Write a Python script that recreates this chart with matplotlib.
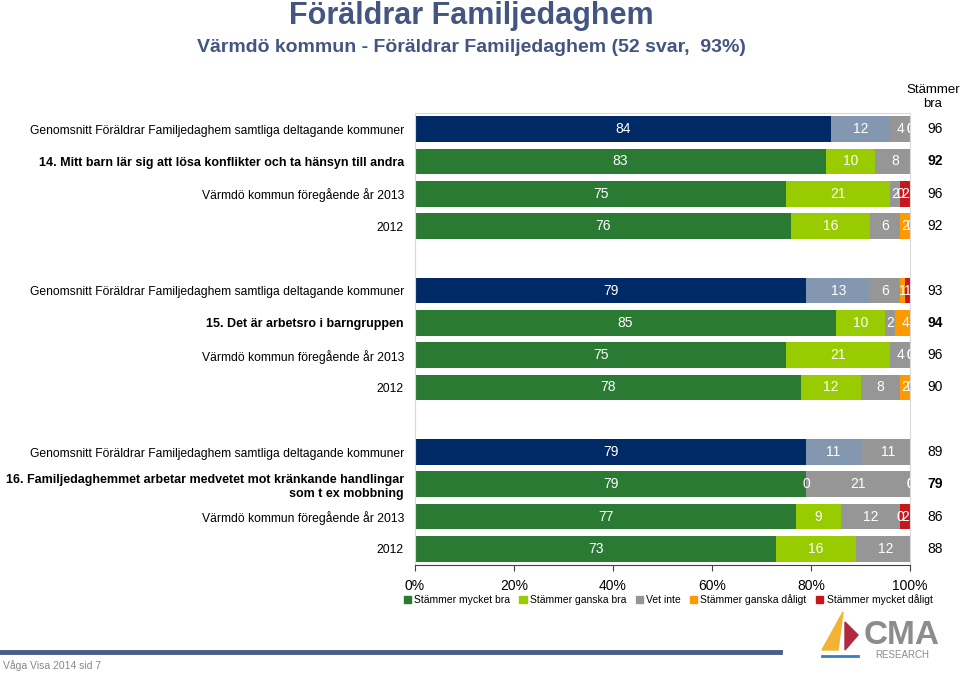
import numpy as np
import matplotlib.pyplot as plt
from matplotlib.patches import Polygon, Patch

plt.rcParams['font.family'] = ['Liberation Sans', 'DejaVu Sans']

# row labels, top to bottom
row_labels = [
    "Genomsnitt Föräldrar Familjedaghem samtliga deltagande kommuner",
    "14. Mitt barn lär sig att lösa konflikter och ta hänsyn till andra",
    "Värmdö kommun föregående år 2013",
    "2012",
    "Genomsnitt Föräldrar Familjedaghem samtliga deltagande kommuner",
    "15. Det är arbetsro i barngruppen",
    "Värmdö kommun föregående år 2013",
    "2012",
    "Genomsnitt Föräldrar Familjedaghem samtliga deltagande kommuner",
    "16. Familjedaghemmet arbetar medvetet mot kränkande handlingar\nsom t ex mobbning",
    "Värmdö kommun föregående år 2013",
    "2012",
]
row_pos = [0, 1, 2, 3, 5, 6, 7, 8, 10, 11, 12, 13]
bold_rows = [1, 5, 9]
avg_rows = [0, 4, 8]

mycket_bra = [84, 83, 75, 76, 79, 85, 75, 78, 79, 79, 77, 73]
ganska_bra = [12, 10, 21, 16, 13, 10, 21, 12, 11, 0, 9, 16]
vet_inte = [4, 8, 2, 6, 6, 2, 4, 8, 11, 21, 12, 12]
ganska_daligt = [0, 0, 0, 2, 1, 4, 0, 2, 0, 0, 0, 0]
mycket_daligt = [0, 0, 2, 0, 1, 0, 0, 0, 0, 0, 2, 0]
stammer_bra = [96, 92, 96, 92, 93, 94, 96, 90, 89, 79, 86, 88]

series_names = ["Stämmer mycket bra", "Stämmer ganska bra", "Vet inte",
                "Stämmer ganska dåligt", "Stämmer mycket dåligt"]
colors = ["#2a7a33", "#99cc00", "#969696", "#ff9900", "#c8161d"]
avg_colors = ["#002a66", "#8497b0", "#969696", "#ff9900", "#c8161d"]

fig = plt.figure(figsize=(9.6, 6.74), dpi=100)
ax = fig.add_axes([415 / 960, 1 - 565 / 674, 495 / 960, 452 / 674])

series = [mycket_bra, ganska_bra, vet_inte, ganska_daligt, mycket_daligt]
left = np.zeros(len(row_pos))
for s, vals in enumerate(series):
    vals = np.array(vals, dtype=float)
    cols = [avg_colors[s] if i in avg_rows else colors[s] for i in range(len(vals))]
    ax.barh(row_pos, vals, left=left, height=0.8, color=cols, edgecolor='none')
    for i, v in enumerate(vals):
        ax.text(left[i] + v / 2, row_pos[i], "%d" % v, ha='center', va='center',
                color='white', fontsize=10, clip_on=True)
    left += vals

ax.set_xlim(0, 100)
ax.set_ylim(13.5, -0.5)
ax.set_xticks([0, 20, 40, 60, 80, 100])
ax.set_xticklabels(["0%", "20%", "40%", "60%", "80%", "100%"], fontsize=10)
ax.tick_params(axis='x', length=4, color='#404040', pad=6)
ax.set_yticks(row_pos)
ax.set_yticklabels(row_labels, fontsize=8.7)
ax.tick_params(axis='y', length=0, pad=8)
for i, lab in enumerate(ax.get_yticklabels()):
    if i in bold_rows:
        lab.set_fontweight('bold')
        lab.set_fontsize(9)
    lab.set_multialignment('right')

for side in ['top', 'right', 'left']:
    ax.spines[side].set_color('#d9d9d9')
ax.spines['bottom'].set_color('#404040')

# right column
for i, v in enumerate(stammer_bra):
    ax.text(1.05, row_pos[i], str(v), transform=ax.get_yaxis_transform(),
            ha='center', va='center', fontsize=10,
            fontweight='bold' if i in bold_rows else 'normal')
fig.text(933 / 960, 1 - 97 / 674, "Stämmer\nbra", ha='center', va='center',
         fontsize=9.5, linespacing=1.3)

handles = [Patch(color=c, label=n) for c, n in zip(colors, series_names)]
fig.legend(handles=handles, loc='center', bbox_to_anchor=(668 / 960, 1 - 600 / 674),
           ncol=5, fontsize=7.5, frameon=False, handlelength=0.7, handleheight=0.7,
           handletextpad=0.3, columnspacing=0.9)

# titles
fig.text(471 / 960, 1 - 16 / 674, "Föräldrar Familjedaghem", ha='center',
         va='center', fontsize=22, fontweight='bold', color='#435580')
fig.text(471 / 960, 1 - 47 / 674, "Värmdö kommun - Föräldrar Familjedaghem (52 svar,  93%)",
         ha='center', va='center', fontsize=14, fontweight='bold', color='#435580')

# footer
fig.add_artist(plt.Line2D([0, 780 / 960], [1 - 652 / 674] * 2, color='#4a5e8c',
                          lw=3.5, transform=fig.transFigure))
fig.text(3 / 960, 1 - 666 / 674, "Våga Visa 2014 sid 7", ha='left', va='center',
         fontsize=7.5, color='#888888')

# logo
fig.add_artist(Polygon([(843 / 960, 1 - 612 / 674), (822 / 960, 1 - 650 / 674),
                        (838 / 960, 1 - 650 / 674)], closed=True,
                       color='#f2b233', transform=fig.transFigure))
fig.add_artist(Polygon([(845 / 960, 1 - 622 / 674), (858 / 960, 1 - 635 / 674),
                        (845 / 960, 1 - 650 / 674)], closed=True,
                       color='#b02a3e', transform=fig.transFigure))
fig.add_artist(plt.Line2D([822 / 960, 858 / 960], [1 - 656 / 674] * 2,
                          color='#3a7cc0', lw=2, transform=fig.transFigure))
fig.text(902 / 960, 1 - 636 / 674, "CMA", ha='center', va='center',
         fontsize=24, fontweight='bold', color='#8c8c8c')
fig.text(902 / 960, 1 - 655 / 674, "RESEARCH", ha='center', va='center',
         fontsize=7, color='#8c8c8c')

fig.savefig("out.png", dpi=100)
